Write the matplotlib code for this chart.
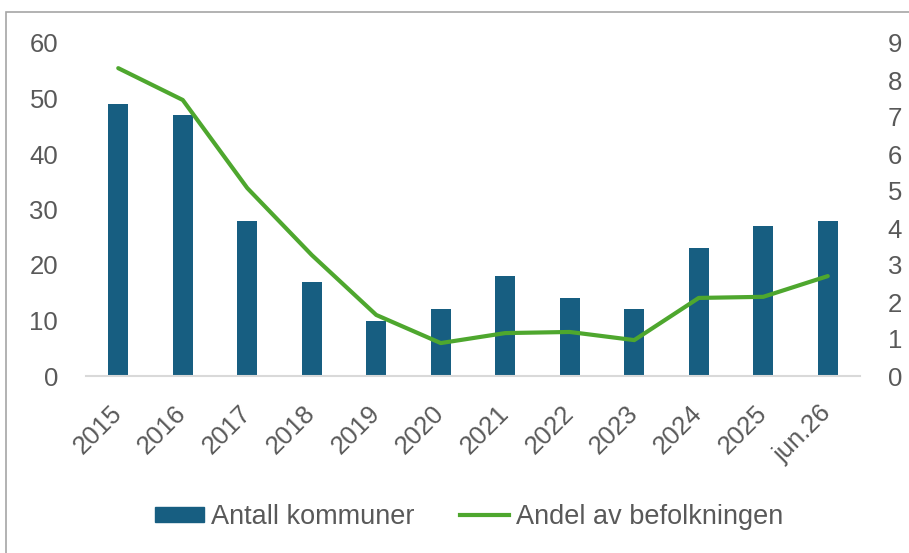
import matplotlib
matplotlib.use("Agg")
import matplotlib.pyplot as plt
from matplotlib.patches import Rectangle, Patch
from matplotlib.lines import Line2D
import numpy as np

categories = ["2015", "2016", "2017", "2018", "2019", "2020", "2021", "2022", "2023", "2024", "2025", "jun.26"]
antall_kommuner = [49, 47, 28, 17, 10, 12, 18, 14, 12, 23, 27, 28]
andel_befolkning = [8.32, 7.46, 5.08, 3.27, 1.65, 0.89, 1.16, 1.19, 0.97, 2.11, 2.14, 2.70]

bar_color = "#175e81"
line_color = "#4ea72e"
text_color = "#595959"

plt.rcParams['font.family'] = ['Liberation Sans', 'DejaVu Sans']

fig = plt.figure(figsize=(9.09, 5.53), dpi=100)
fig.patches.append(Rectangle((6/909, -0.1), 1.2, 1 - 12/553 + 0.1, transform=fig.transFigure,
                             fill=False, edgecolor="#a6a6a6", linewidth=1.2))

ax = fig.add_axes([86/909, 1 - 376/553, (860 - 86)/909, (376 - 43)/553])
x = np.arange(len(categories))
ax.bar(x, antall_kommuner, width=0.31, color=bar_color, zorder=2)
ax.set_xlim(-0.5, len(categories) - 0.5)
ax.set_ylim(0, 60)
ax.set_yticks(range(0, 61, 10))
ax.set_xticks(x)
ax.set_xticklabels(categories, rotation=45, ha="right", va="center", rotation_mode="anchor")

for s in ["top", "left", "right"]:
    ax.spines[s].set_visible(False)
ax.spines["bottom"].set_color("#d9d9d9")
ax.spines["bottom"].set_linewidth(1.5)
ax.tick_params(axis="both", length=0, colors=text_color)
ax.tick_params(axis="y", pad=20, labelsize=18.5)
ax.tick_params(axis="x", pad=24, labelsize=18.5)

ax2 = ax.twinx()
ax2.plot(x, andel_befolkning, color=line_color, linewidth=3.0, solid_capstyle="round", zorder=3)
ax2.set_ylim(0, 9)
ax2.set_yticks(range(0, 10))
for s in ["top", "left", "right", "bottom"]:
    ax2.spines[s].set_visible(False)
ax2.tick_params(axis="y", length=0, labelsize=18.5, colors=text_color, pad=20)

handles = [Patch(facecolor=bar_color, edgecolor=bar_color),
           Line2D([0], [0], color=line_color, linewidth=3.0)]
labels = ["Antall kommuner", "Andel av befolkningen"]
leg = fig.legend(handles, labels, loc="center", bbox_to_anchor=(469/909, 1 - 517/553), ncol=2,
                 frameon=False, handlelength=1.8, handleheight=0.5, handletextpad=0.26, columnspacing=1.7,
                 prop={"size": 19.5})
for t in leg.get_texts():
    t.set_color(text_color)

fig.savefig("out.png", dpi=100)
